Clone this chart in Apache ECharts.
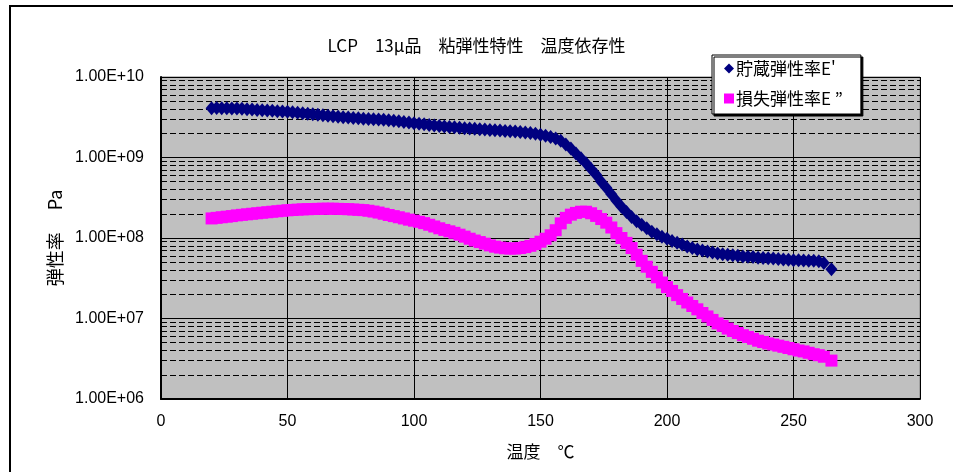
<!DOCTYPE html>
<html lang="ja">

<head>
    <meta charset="UTF-8">
    <title>LCP 13μ品 粘弾性特性 温度依存性</title>
</head>

<body style="margin:0; background:#fff">
    <div id="main" style="width: 953px; height:472px"></div>
    <script src="https://cdn.jsdelivr.net/npm/echarts@6.0.0/dist/echarts.min.js"></script>
    <script type="text/javascript">
        // 温度 ℃ (測定点)
        var temps = [
            20, 22, 24, 26, 28, 30, 32, 34, 36, 38,
            40, 42, 44, 46, 48, 50, 52, 54, 56, 58,
            60, 62, 64, 66, 68, 70, 72, 74, 76, 78,
            80, 82, 84, 86, 88, 90, 92, 94, 96, 98,
            100, 102, 104, 106, 108, 110, 112, 114, 116, 118,
            120, 122, 124, 126, 128, 130, 132, 134, 136, 138,
            140, 142, 144, 146, 148, 150, 152, 154, 156, 158,
            160, 162, 164, 166, 168, 170, 172, 174, 176, 178,
            180, 182, 184, 186, 188, 190, 192, 194, 196, 198,
            200, 202, 204, 206, 208, 210, 212, 214, 216, 218,
            220, 222, 224, 226, 228, 230, 232, 234, 236, 238,
            240, 242, 244, 246, 248, 250, 252, 254, 256, 258,
            260, 262, 265
        ];

        // 貯蔵弾性率E' Pa
        var storageE = [
            4.10e9, 4.12e9, 4.10e9, 4.08e9, 4.06e9, 4.05e9, 4.02e9, 3.98e9, 3.95e9, 3.90e9,
            3.86e9, 3.83e9, 3.80e9, 3.76e9, 3.72e9, 3.69e9, 3.64e9, 3.59e9, 3.54e9, 3.49e9,
            3.44e9, 3.39e9, 3.34e9, 3.30e9, 3.25e9, 3.21e9, 3.17e9, 3.13e9, 3.10e9, 3.07e9,
            3.04e9, 3.01e9, 2.99e9, 2.96e9, 2.94e9, 2.91e9, 2.87e9, 2.82e9, 2.77e9, 2.72e9,
            2.67e9, 2.62e9, 2.58e9, 2.54e9, 2.50e9, 2.47e9, 2.43e9, 2.40e9, 2.37e9, 2.34e9,
            2.31e9, 2.29e9, 2.27e9, 2.24e9, 2.22e9, 2.20e9, 2.18e9, 2.16e9, 2.14e9, 2.12e9,
            2.10e9, 2.08e9, 2.05e9, 2.01e9, 1.97e9, 1.92e9, 1.86e9, 1.80e9, 1.72e9, 1.62e9,
            1.45e9, 1.29e9, 1.12e9, 9.8e8, 8.5e8, 7.2e8, 6.1e8, 5.0e8, 4.2e8, 3.5e8,
            2.9e8, 2.45e8, 2.1e8, 1.82e8, 1.62e8, 1.46e8, 1.32e8, 1.2e8, 1.11e8, 1.04e8,
            9.8e7, 9.2e7, 8.7e7, 8.3e7, 7.85e7, 7.5e7, 7.2e7, 7.0e7, 6.8e7, 6.6e7,
            6.4e7, 6.3e7, 6.2e7, 6.1e7, 6.0e7, 5.9e7, 5.85e7, 5.8e7, 5.7e7, 5.65e7,
            5.6e7, 5.55e7, 5.5e7, 5.4e7, 5.35e7, 5.3e7, 5.3e7, 5.25e7, 5.2e7, 5.2e7,
            5.15e7, 4.9e7, 4.1e7
        ];

        // 損失弾性率E" Pa
        var lossE = [
            1.75e8, 1.78e8, 1.81e8, 1.84e8, 1.87e8, 1.91e8, 1.94e8, 1.97e8, 2.00e8, 2.03e8,
            2.06e8, 2.09e8, 2.12e8, 2.15e8, 2.18e8, 2.21e8, 2.23e8, 2.25e8, 2.27e8, 2.28e8,
            2.29e8, 2.30e8, 2.31e8, 2.31e8, 2.31e8, 2.30e8, 2.29e8, 2.28e8, 2.26e8, 2.24e8,
            2.22e8, 2.18e8, 2.13e8, 2.07e8, 2.00e8, 1.93e8, 1.87e8, 1.81e8, 1.75e8, 1.69e8,
            1.64e8, 1.59e8, 1.53e8, 1.46e8, 1.39e8, 1.32e8, 1.26e8, 1.21e8, 1.16e8, 1.10e8,
            1.04e8, 9.8e7, 9.3e7, 8.9e7, 8.5e7, 8.1e7, 7.8e7, 7.6e7, 7.45e7, 7.4e7,
            7.4e7, 7.5e7, 7.7e7, 8.0e7, 8.4e7, 9.0e7, 9.8e7, 1.08e8, 1.25e8, 1.52e8,
            1.78e8, 1.95e8, 2.05e8, 2.12e8, 2.12e8, 2.03e8, 1.88e8, 1.72e8, 1.55e8, 1.35e8,
            1.15e8, 1.0e8, 8.7e7, 7.5e7, 6.2e7, 5.2e7, 4.4e7, 3.8e7, 3.25e7, 2.8e7,
            2.45e7, 2.2e7, 1.95e7, 1.75e7, 1.58e7, 1.43e7, 1.3e7, 1.17e7, 1.06e7, 9.6e6,
            8.7e6, 8.1e6, 7.5e6, 7.0e6, 6.6e6, 6.2e6, 5.9e6, 5.6e6, 5.3e6, 5.1e6,
            4.9e6, 4.75e6, 4.6e6, 4.45e6, 4.3e6, 4.15e6, 4.0e6, 3.9e6, 3.75e6, 3.6e6,
            3.5e6, 3.35e6, 3.0e6
        ];

        var seriesNames = ['貯蔵弾性率E\'', '損失弾性率E ”'];
        // 補助目盛線 (2〜9 × 10^n)
        var decades = [1e6, 1e7, 1e8, 1e9];
        var minorSteps = [2, 3, 4, 5, 6, 7, 8, 9];

        var myChart = echarts.init(document.getElementById('main'));

        function pairs(ys) {
            var out = [];
            for (var i = 0; i < temps.length; i++) {
                out.push([temps[i], ys[i]]);
            }
            return out;
        }

        var minorLines = [];
        decades.forEach(function(d) {
            minorSteps.forEach(function(m) {
                minorLines.push({ yAxis: d * m });
            });
        });

        function sciLabel(v) {
            var e = Math.round(Math.log(v) / Math.LN10);
            var m = v / Math.pow(10, e);
            return m.toFixed(2) + 'E+' + (e < 10 ? '0' + e : e);
        }

        var jpFont = '"Noto Sans CJK JP", sans-serif';

        var option = {
            backgroundColor: '#fff',
            animation: false,
            title: {
                text: 'LCP　13μ品　粘弾性特性　温度依存性',
                left: 'center',
                top: 32,
                textStyle: {
                    fontFamily: jpFont,
                    fontSize: 17,
                    fontWeight: 'normal',
                    color: '#000'
                }
            },
            legend: {
                orient: 'vertical',
                left: 712,
                top: 55,
                padding: [5, 18, 7, 12],
                itemGap: 13,
                itemWidth: 10,
                itemHeight: 10,
                backgroundColor: '#fff',
                borderColor: '#000',
                borderWidth: 1,
                borderRadius: 0,
                shadowColor: '#000',
                shadowBlur: 0,
                shadowOffsetX: 2,
                shadowOffsetY: 2,
                textStyle: {
                    fontFamily: jpFont,
                    fontSize: 17,
                    lineHeight: 17,
                    color: '#000',
                    padding: [0, 0, 0, -3]
                },
                data: [
                    { name: seriesNames[0], icon: 'diamond' },
                    { name: seriesNames[1], icon: 'rect' }
                ]
            },
            graphic: [{
                type: 'rect',
                silent: true,
                shape: { x: 10, y: 6, width: 1000, height: 1000 },
                style: { fill: 'none', stroke: '#000', lineWidth: 2 }
            }],
            grid: {
                left: 161,
                right: 33,
                top: 77,
                bottom: 73,
                show: true,
                backgroundColor: '#c0c0c0',
                borderColor: '#808080',
                borderWidth: 1
            },
            xAxis: {
                type: 'value',
                min: 0,
                max: 300,
                interval: 50,
                name: '温度　℃',
                nameLocation: 'middle',
                nameGap: 44,
                nameTextStyle: {
                    fontFamily: jpFont,
                    fontSize: 17,
                    color: '#000'
                },
                axisLine: { lineStyle: { color: '#000', width: 2 } },
                axisTick: { show: false },
                axisLabel: {
                    margin: 15,
                    fontFamily: 'Liberation Sans',
                    fontSize: 16,
                    color: '#000'
                },
                splitLine: { show: true, lineStyle: { color: '#000', width: 1 } }
            },
            yAxis: {
                type: 'log',
                logBase: 10,
                min: 1e6,
                max: 1e10,
                name: '弾性率　 Pa',
                nameLocation: 'middle',
                nameRotate: 90,
                nameGap: 96,
                nameTextStyle: {
                    fontFamily: jpFont,
                    fontSize: 18,
                    color: '#000'
                },
                axisLine: { show: true, lineStyle: { color: '#000', width: 2 } },
                axisTick: { show: false },
                axisLabel: {
                    margin: 17,
                    fontFamily: 'Liberation Sans',
                    fontSize: 16,
                    color: '#000',
                    formatter: sciLabel
                },
                splitLine: { show: true, lineStyle: { color: '#000', width: 1 } }
            },
            series: [{
                    name: seriesNames[0],
                    type: 'scatter',
                    symbol: 'diamond',
                    symbolSize: [12, 14],
                    itemStyle: { color: '#000080', opacity: 1 },
                    data: pairs(storageE),
                    markLine: {
                        silent: true,
                        z: 1,
                        symbol: ['none', 'none'],
                        label: { show: false },
                        lineStyle: { color: '#000', width: 1, type: [6, 3] },
                        emphasis: { disabled: true },
                        data: minorLines
                    }
                },
                {
                    name: seriesNames[1],
                    type: 'scatter',
                    symbol: 'rect',
                    symbolSize: 12,
                    itemStyle: { color: '#ff00ff', opacity: 1 },
                    data: pairs(lossE)
                }
            ]
        };
        myChart.setOption(option);

        window.onresize = function() {
            myChart.resize();
        };
    </script>

</body>

</html>
